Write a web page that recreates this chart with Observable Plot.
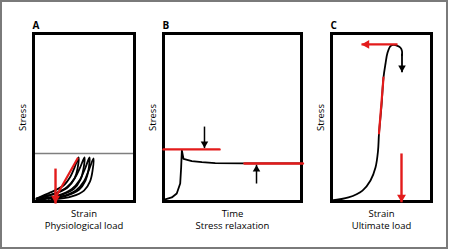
<!DOCTYPE html>
<html>
<head>
<meta charset="utf-8">
<script src="https://cdn.jsdelivr.net/npm/d3@7"></script>
<script src="https://cdn.jsdelivr.net/npm/@observablehq/plot@0.6"></script>
<style>
  html, body { margin: 0; padding: 0; background: #fff; }
  #fig { position: relative; width: 449px; height: 250px; overflow: hidden; }
  #border { position: absolute; left: 0; top: 0; width: 448px; height: 249px; box-sizing: border-box; border: 2px solid #7a7a7a; }
  .panel { position: absolute; top: 0; }
</style>
</head>
<body>
<div id="fig"><div id="border"></div></div>
<script>
// ---------- Panel A: physiological load (strain %, stress %) ----------
const panelA = { letter: "A", ylabel: "Stress", xlabel: "Strain", caption: "Physiological load" };
const limitA = [28.6];   // physiological stress limit (grey line)
const loopA1 = [[3,1.8],[16.8,5.4],[29.7,9.5],[36.6,14.9],[40.6,20.2],[44.6,26.2],[43.6,19.6],[40.6,13.7],[33.7,8.3],[21.8,4.8],[8.9,2.4]];
const loopA2 = [[3,1.8],[20,4.5],[33,8.5],[41,14],[46,20],[50.5,26.2],[49.5,19.5],[46.5,13],[40,7.5],[28,4],[12,2]];
const loopA3 = [[3,1.2],[24,3.5],[38,7.5],[46,13],[51,19.5],[55.4,26.2],[54.5,19],[51.5,12.5],[45,7],[33,3.5],[15,1.5]];
const loopA4 = [[3,1],[28,3],[42,6.5],[50,12],[55,19],[59.4,25.6],[58.5,18.5],[56,12],[50,6.5],[38,3],[18,1]];
const slopeA = [[43.6,25.6],[21.8,2.4]];
const arrowsRedA = [{x1: 21.8, y1: 19.6, x2: 21.8, y2: -1.2}];

// ---------- Panel B: stress relaxation (time %, stress %) ----------
const panelB = { letter: "B", ylabel: "Stress", xlabel: "Time", caption: "Stress relaxation" };
const curveB = [[0,0],[1.2,1.2],[6,2.4],[9.6,4.8],[12.1,10.7],[12.8,20.4],[13.3,30.4],[14.5,25.4],[20.5,24],[27.8,23.4],[37.5,22.8],[58,22.7],[100,22.7]];
const peakLineB = [[0,31],[40.6,31]];
const eqLineB = [[58.7,22.6],[101,22.6]];
const arrowsBlackB = [
  {x1: 29.7, y1: 44.6, x2: 29.7, y2: 31.8},
  {x1: 67.4, y1: 10.7, x2: 67.4, y2: 21.8}
];

// ---------- Panel C: ultimate load (strain %, stress %) ----------
const panelC = { letter: "C", ylabel: "Stress", xlabel: "Strain", caption: "Ultimate load" };
const curveC = [[0,0.6],[17,2.4],[31,6.5],[39,12.5],[44,20.2],[46.5,30],[47.5,40.5],[50,57],[52,73.8],[54,82],[56,88.5],[59,92.5],[62,93.2],[66,92.6],[69,91.5],[70.5,89.5],[70.5,87]];
const linearC = [[47.5,40.5],[52,73.8]];
const arrowsBlackC = [{x1: 70.5, y1: 88, x2: 70.5, y2: 77}];
const arrowsRedC = [
  {x1: 66, y1: 93.5, x2: 30, y2: 93.5},
  {x1: 70, y1: 28.6, x2: 70, y2: -0.5}
];

const RED = "#e31b1b";
const FONT = "'Open Sans', 'DejaVu Sans', sans-serif";

function labels(p) {
  return [
    Plot.text([p.letter], {frameAnchor: "top-left", textAnchor: "start", lineAnchor: "middle", dy: -8, dx: -1, fontWeight: "bold", fontSize: 10, fill: "black"}),
    Plot.text([p.ylabel], {frameAnchor: "left", textAnchor: "middle", lineAnchor: "middle", rotate: -90, dx: -11, fontSize: 9.5, fill: "black"}),
    Plot.text([p.xlabel], {frameAnchor: "bottom", textAnchor: "middle", lineAnchor: "middle", dy: 12, fontSize: 9.5, fill: "black"}),
    Plot.text([p.caption], {frameAnchor: "bottom", textAnchor: "middle", lineAnchor: "middle", dy: 24.5, fontSize: 9.5, fill: "black"})
  ];
}

// arrow = shaft (link) + filled triangular head (dot), head placed by direction
function arrows(data, color, width, r) {
  const c = 2 * Math.sqrt(Math.PI * r * r * 4 / Math.sqrt(3)) * Math.sqrt(3) / 2 / 3; // centroid-to-tip distance
  const down = data.filter(d => d.x1 === d.x2 && d.y2 < d.y1);
  const up = data.filter(d => d.x1 === d.x2 && d.y2 > d.y1);
  const left = data.filter(d => d.y1 === d.y2 && d.x2 < d.x1);
  const head = {x: "x2", y: "y2", symbol: "triangle", r, fill: color, stroke: "none"};
  return [
    Plot.link(data, {x1: "x1", y1: "y1", x2: "x2", y2: "y2", stroke: color, strokeWidth: width}),
    Plot.dot(down, {...head, rotate: 180, dy: -c}),
    Plot.dot(up, {...head, rotate: 0, dy: c}),
    Plot.dot(left, {...head, rotate: -90, dx: c})
  ];
}

function makePlot(width, ml, mr, marks) {
  return Plot.plot({
    width, height: 250,
    marginLeft: ml, marginRight: mr, marginTop: 33, marginBottom: 49,
    x: {domain: [0, 100], axis: null},
    y: {domain: [0, 100], axis: null},
    style: {background: "transparent", overflow: "visible", fontFamily: FONT, fontSize: "9.5px"},
    marks
  });
}

const lineOpts = {x: d => d[0], y: d => d[1], stroke: "black", strokeWidth: 1.8, curve: "catmull-rom"};

const plotA = makePlot(146, 33, 12, [
  Plot.ruleY(limitA, {stroke: "#7f7f7f", strokeWidth: 1.5}),
  Plot.frame({stroke: "black", strokeWidth: 3}),
  Plot.line(loopA1, lineOpts),
  Plot.line(loopA2, lineOpts),
  Plot.line(loopA3, lineOpts),
  Plot.line(loopA4, lineOpts),
  Plot.line(slopeA, {x: d => d[0], y: d => d[1], stroke: RED, strokeWidth: 2.2}),
  ...arrows(arrowsRedA, RED, 2.4, 3.3),
  ...labels(panelA)
]);

const plotB = makePlot(165, 17, 10, [
  Plot.frame({stroke: "black", strokeWidth: 3}),
  Plot.line(curveB, {...lineOpts, curve: "linear"}),
  Plot.line(peakLineB, {x: d => d[0], y: d => d[1], stroke: RED, strokeWidth: 2.4}),
  Plot.line(eqLineB, {x: d => d[0], y: d => d[1], stroke: RED, strokeWidth: 2.4}),
  ...arrows(arrowsBlackB, "black", 1.5, 2.8),
  ...labels(panelB)
]);

const plotC = makePlot(138, 20, 18, [
  Plot.frame({stroke: "black", strokeWidth: 3}),
  Plot.line(curveC, lineOpts),
  Plot.line(linearC, {x: d => d[0], y: d => d[1], stroke: RED, strokeWidth: 2.2}),
  ...arrows(arrowsBlackC, "black", 1.8, 2.8),
  ...arrows(arrowsRedC, RED, 2.4, 3.3),
  ...labels(panelC)
]);

const fig = document.getElementById("fig");
[[plotA, 0], [plotB, 146], [plotC, 311]].forEach(([svg, left]) => {
  svg.classList.add("panel");
  svg.style.left = left + "px";
  fig.appendChild(svg);
});
</script>
</body>
</html>
